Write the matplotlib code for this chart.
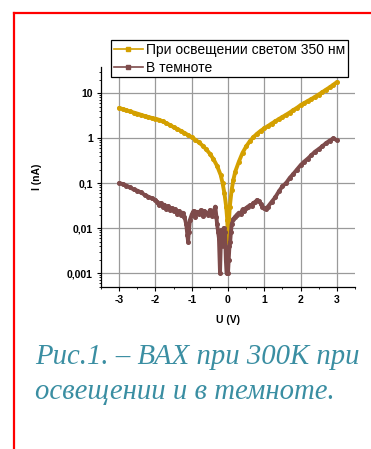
import numpy as np
import matplotlib.pyplot as plt
from matplotlib.lines import Line2D
from matplotlib.ticker import FixedLocator, NullFormatter, LogLocator

# I-V curve under 350 nm illumination
U_LIGHT = [-3.0, -2.9, -2.8, -2.7, -2.6, -2.5, -2.4, -2.3, -2.2, -2.1,
           -2.0, -1.9, -1.8, -1.7, -1.6, -1.5, -1.4, -1.3, -1.2, -1.1,
           -1.0, -0.9, -0.8, -0.7, -0.6, -0.5, -0.4, -0.3, -0.2, -0.15,
           -0.1, -0.05, -0.02, 0.0, 0.02, 0.05, 0.1, 0.15, 0.2, 0.3,
           0.4, 0.5, 0.6, 0.7, 0.8, 0.9, 1.0, 1.1, 1.2, 1.3,
           1.4, 1.5, 1.6, 1.7, 1.8, 1.9, 2.0, 2.1, 2.2, 2.3,
           2.4, 2.5, 2.6, 2.7, 2.8, 2.9, 3.0]
I_LIGHT = [4.7, 4.4, 4.15, 3.9, 3.7, 3.5, 3.3, 3.1, 2.95, 2.8,
           2.7, 2.55, 2.35, 2.15, 1.95, 1.75, 1.6, 1.45, 1.3, 1.17,
           1.05, 0.92, 0.8, 0.68, 0.56, 0.45, 0.34, 0.24, 0.15, 0.1,
           0.06, 0.03, 0.015, 0.005, 0.012, 0.03, 0.07, 0.12, 0.18, 0.3,
           0.47, 0.65, 0.85, 1.05, 1.25, 1.45, 1.65, 1.85, 2.1, 2.35,
           2.65, 2.95, 3.3, 3.7, 4.2, 4.7, 5.4, 6.0, 6.7, 7.4,
           8.3, 9.3, 10.5, 11.9, 13.4, 15.3, 17.5]

# I-V curve in the dark
U_DARK = [-3.0, -2.9, -2.8, -2.7, -2.6, -2.5, -2.4, -2.3, -2.2, -2.1,
          -2.0, -1.95, -1.9, -1.85, -1.8, -1.75, -1.7, -1.65, -1.6, -1.55,
          -1.5, -1.45, -1.4, -1.35, -1.3, -1.25, -1.2, -1.15, -1.12, -1.1,
          -1.08, -1.05, -1.0, -0.95, -0.9, -0.85, -0.8, -0.75, -0.7, -0.65,
          -0.6, -0.55, -0.5, -0.45, -0.4, -0.35, -0.32, -0.3, -0.27, -0.25,
          -0.22, -0.2, -0.18, -0.15, -0.12, -0.1, -0.08, -0.06, -0.04, -0.02,
          0.0, 0.02, 0.04, 0.06, 0.08, 0.1, 0.15, 0.2, 0.25, 0.3,
          0.35, 0.4, 0.45, 0.5, 0.55, 0.6, 0.65, 0.7, 0.75, 0.8,
          0.85, 0.9, 0.95, 1.0, 1.05, 1.1, 1.2, 1.3, 1.4, 1.5,
          1.6, 1.7, 1.8, 1.9, 2.0, 2.1, 2.2, 2.3, 2.4, 2.5,
          2.6, 2.7, 2.8, 2.9, 3.0]
I_DARK = [0.10, 0.095, 0.088, 0.08, 0.072, 0.068, 0.062, 0.055, 0.05, 0.046,
          0.042, 0.038, 0.032, 0.036, 0.030, 0.033, 0.027, 0.031, 0.025, 0.028,
          0.024, 0.026, 0.021, 0.024, 0.020, 0.022, 0.018, 0.012, 0.007, 0.005,
          0.008, 0.015, 0.020, 0.024, 0.018, 0.023, 0.021, 0.025, 0.019, 0.024,
          0.022, 0.020, 0.025, 0.019, 0.023, 0.030, 0.018, 0.012, 0.008, 0.006,
          0.001, 0.004, 0.009, 0.006, 0.010, 0.004, 0.008, 0.002, 0.001, 0.001,
          0.001, 0.002, 0.004, 0.005, 0.008, 0.012, 0.016, 0.018, 0.020, 0.022,
          0.021, 0.026, 0.024, 0.028, 0.030, 0.032, 0.031, 0.036, 0.038, 0.042,
          0.040, 0.035, 0.030, 0.028, 0.027, 0.030, 0.038, 0.048, 0.065, 0.085,
          0.10, 0.13, 0.16, 0.20, 0.25, 0.30, 0.35, 0.42, 0.50, 0.57,
          0.66, 0.77, 0.88, 0.98, 0.90]

X_TICKS = [-3, -2, -1, 0, 1, 2, 3]
Y_TICKS = [0.001, 0.01, 0.1, 1, 10]
Y_TICK_LABELS = ["0,001", "0,01", "0,1", "1", "10"]

LEGEND_LABELS = ["При освещении светом 350 нм", "В темноте"]
CAPTION_LINES = ["Рис.1. – ВАХ при 300К при", "освещении и в темноте."]

LIGHT_COLOR = "#d4a000"
DARK_COLOR = "#7e4b4b"
CAPTION_COLOR = "#3a8ea2"

plt.rcParams['font.family'] = ['Liberation Sans', 'DejaVu Sans']

fig = plt.figure(figsize=(3.71, 4.49), dpi=100)
ax = fig.add_axes([0.2722, 0.3608, 0.6847, 0.49])

ax.plot(U_LIGHT, I_LIGHT, color=LIGHT_COLOR, lw=2.8, marker='o', ms=2.6,
        solid_capstyle='round', solid_joinstyle='round', zorder=3)
ax.plot(U_DARK, I_DARK, color=DARK_COLOR, lw=2.8, marker='o', ms=2.6,
        solid_capstyle='round', solid_joinstyle='round', zorder=3)

ax.set_yscale('log')
ax.set_xlim(-3.5, 3.5)
ax.set_ylim(10 ** -3.31, 10 ** 1.58)

ax.set_xticks(X_TICKS)
ax.set_xticklabels([str(v) if v >= 0 else "-" + str(-v) for v in X_TICKS])
ax.xaxis.set_minor_locator(FixedLocator(np.arange(-3.5, 3.6, 0.5)))
ax.set_yticks(Y_TICKS)
ax.set_yticklabels(Y_TICK_LABELS)
ax.yaxis.set_minor_locator(LogLocator(base=10, subs=np.arange(2, 10)))
ax.yaxis.set_minor_formatter(NullFormatter())

for lbl in ax.get_xticklabels() + ax.get_yticklabels():
    lbl.set_fontweight('bold')
    lbl.set_fontsize(7.5)

ax.tick_params(axis='both', which='major', direction='out', length=3, width=0.8, pad=3)
ax.tick_params(axis='both', which='minor', direction='out', length=1.5, width=0.6)

ax.grid(True, which='major', color='#9a9a9a', lw=0.9)
ax.set_axisbelow(True)
for side in ['top', 'right']:
    ax.spines[side].set_visible(False)
for side in ['left', 'bottom']:
    ax.spines[side].set_linewidth(0.9)

ax.set_xlabel("U (V)", fontsize=7.5, fontweight='bold', labelpad=7)
ax.set_ylabel("I (nA)", fontsize=7.5, fontweight='bold', labelpad=18)

handles = [Line2D([], [], color=LIGHT_COLOR, lw=1.2, marker='s', ms=2.5),
           Line2D([], [], color=DARK_COLOR, lw=1.2, marker='s', ms=2.5)]
leg = fig.legend(handles, LEGEND_LABELS, loc='upper left',
                 bbox_to_anchor=(111 / 371, 1 - 40 / 449),
                 fontsize=10, frameon=True, fancybox=False, framealpha=1,
                 edgecolor='black', handlelength=2.1, handletextpad=0.25,
                 borderpad=0.2, labelspacing=0.28, borderaxespad=0)
leg.get_frame().set_linewidth(0.9)

# two-line caption under the chart
for i, line in enumerate(CAPTION_LINES):
    fig.text(35 / 371, 1 - (364 + 35 * i) / 449, line, color=CAPTION_COLOR,
             family='Liberation Serif', style='italic', fontsize=20.7,
             va='baseline', ha='left')

# red frame along top and left edges
fig.add_artist(Line2D([14 / 371, 14 / 371], [0, 1 - 13 / 449],
                      transform=fig.transFigure, color='red', lw=1.6))
fig.add_artist(Line2D([14 / 371, 1], [1 - 13 / 449, 1 - 13 / 449],
                      transform=fig.transFigure, color='red', lw=1.6))

fig.savefig("out.png", dpi=100)
